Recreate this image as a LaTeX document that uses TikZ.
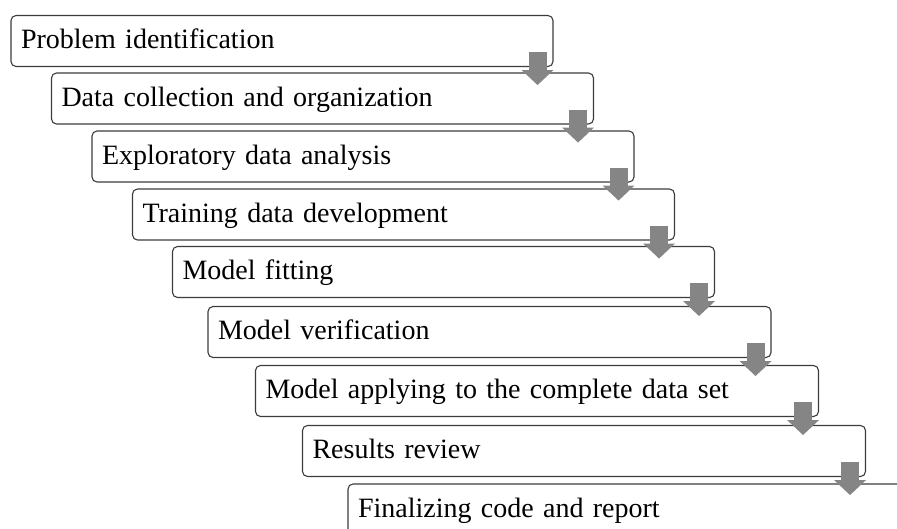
\documentclass[tikz,border=0pt]{standalone}
\usepackage{fontspec}
\setmainfont{Liberation Serif}
\usetikzlibrary{arrows.meta, calc}
\definecolor{edge}{HTML}{3C3C3C}
\definecolor{flow}{HTML}{858585}
\tikzset{
  stage/.style      = {draw=edge, line width=1.1pt, rounded corners=5pt, fill=white,
                       minimum height=51pt, inner xsep=10pt, inner ysep=0pt, align=left,
                       text height=21pt, text depth=6pt, font=\fontsize{28}{32}\selectfont},
  stagenarrow/.style= {stage, text width=522pt},
  stagewide/.style  = {stage, text width=543pt},
  flowarr/.style    = {draw=flow, line width=18pt, -{Triangle[length=15pt,width=31pt]}},
}

\begin{document}
\begin{tikzpicture}[x=1pt, y=-1pt]
\useasboundingbox (0,0) rectangle (897,528);
\clip (0,0) rectangle (897,528);

\node[stagenarrow] (s1) at (282,41)    {Problem identification};
\node[stagenarrow] (s2) at (322.5,98.5) {Data collection and organization};
\node[stagenarrow] (s3) at (363,156.5)  {Exploratory data analysis};
\node[stagenarrow] (s4) at (403.5,214.5){Training data development};
\node[stagenarrow] (s5) at (443.5,272)  {Model fitting};
\node[stagewide]   (s6) at (489.5,332)  {Model verification};
\node[stagewide]   (s7) at (537,391)    {Model applying to the complete data set};
\node[stagewide]   (s8) at (584,451)    {Results review};
\node[stagewide]   (s9) at (629.5,509.5){Finalizing code and report};

% block arrows hang off the lower right corner of each step
\draw[flowarr] ($(s1.south east)+(-16,-15)$) -- ($(s1.south east)+(-16,18)$);
\draw[flowarr] ($(s2.south east)+(-16,-15)$) -- ($(s2.south east)+(-16,18)$);
\draw[flowarr] ($(s3.south east)+(-16,-15)$) -- ($(s3.south east)+(-16,18)$);
\draw[flowarr] ($(s4.south east)+(-16,-15)$) -- ($(s4.south east)+(-16,18)$);
\draw[flowarr] ($(s5.south east)+(-16,-15)$) -- ($(s5.south east)+(-16,18)$);
\draw[flowarr] ($(s6.south east)+(-16,-15)$) -- ($(s6.south east)+(-16,18)$);
\draw[flowarr] ($(s7.south east)+(-16,-15)$) -- ($(s7.south east)+(-16,18)$);
\draw[flowarr] ($(s8.south east)+(-16,-15)$) -- ($(s8.south east)+(-16,18)$);
\end{tikzpicture}
\end{document}
